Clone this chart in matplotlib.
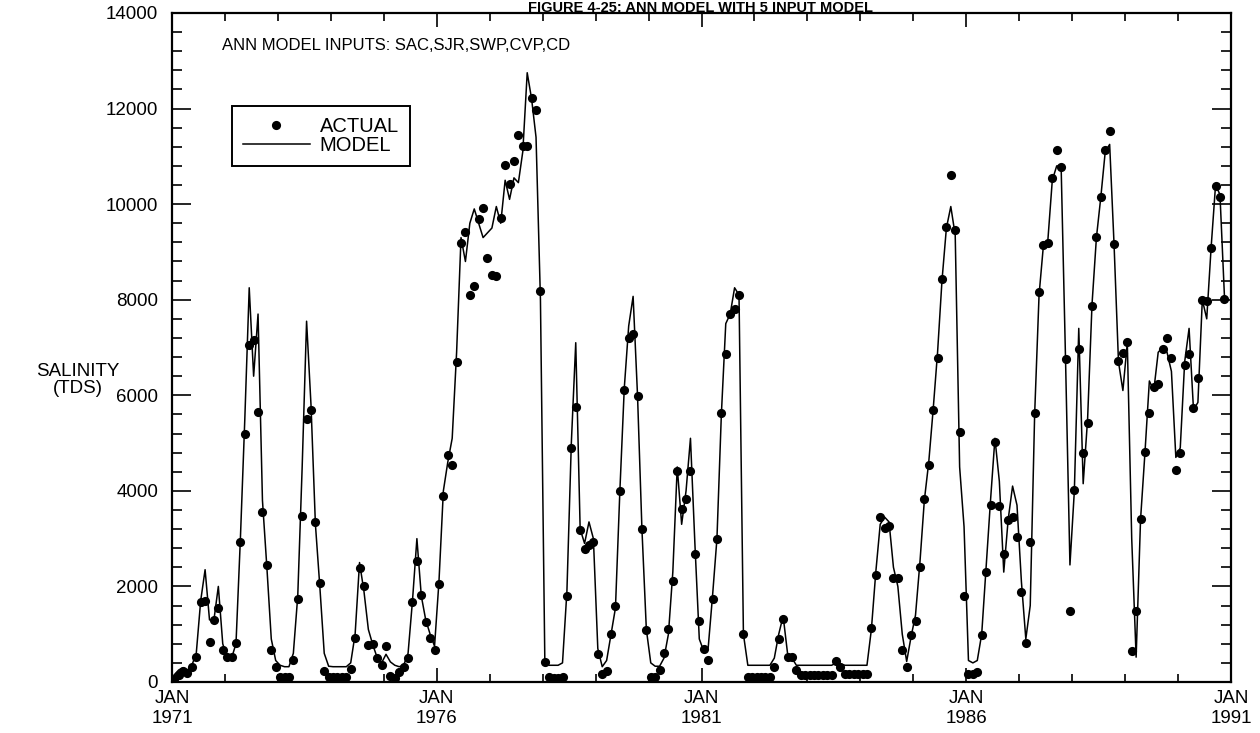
import numpy as np
import matplotlib
matplotlib.use("Agg")
import matplotlib.pyplot as plt
from matplotlib.ticker import MultipleLocator

plt.rcParams["font.family"] = ["Liberation Sans", "DejaVu Sans"]

# monthly salinity (TDS), Jan 1971 onward, one row per year
ACTUAL = [
    70, 150, 230, 180, 320, 520, 1670, 1690, 840, 1290, 1540, 680,
    530, 530, 820, 2930, 5200, 7050, 7150, 5650, 3550, 2450, 670, 320,
    100, 100, 100, 460, 1740, 3470, 5500, 5700, 3350, 2070, 230, 100,
    100, 100, 100, 100, 280, 920, 2380, 2000, 780, 800, 510, 355,
    745, 130, 85, 210, 305, 510, 1670, 2530, 1830, 1260, 920, 670,
    2060, 3900, 4750, 4540, 6700, 9180, 9420, 8100, 8280, 9680, 9910, 8880,
    8510, 8490, 9700, 10820, 10430, 10900, 11440, 11220, 11220, 12230, 11980, 8180,
    420, 100, 80, 80, 100, 1790, 4890, 5760, 3180, 2780, 2870, 2940,
    585, 170, 220, 1000, 1580, 4000, 6120, 7190, 7280, 5980, 3200, 1090,
    100, 100, 250, 600, 1110, 2110, 4420, 3610, 3840, 4420, 2680, 1280,
    690, 460, 1735, 2985, 5620, 6860, 7710, 7800, 8100, 1000, 100, 100,
    100, 100, 100, 100, 310, 890, 1320, 530, 530, 250, 150, 150,
    150, 150, 150, 150, 150, 150, 440, 310, 170, 170, 170, 170,
    170, 170, 1120, 2230, 3460, 3220, 3270, 2170, 2170, 660, 320, 990,
    1280, 2410, 3820, 4540, 5690, 6780, 8430, 9520, 10600, 9450, 5230, 1800,
    160, 160, 200, 980, 2300, 3700, 5020, 3680, 2680, 3380, 3450, 3040,
    1880, 815, 2920, 5620, 8170, 9150, 9180, 10540, 11140, 10770, 6750, 1490,
    4020, 6970, 4800, 5410, 7860, 9320, 10150, 11140, 11540, 9160, 6710, 6890,
    7120, 640, 1490, 3420, 4820, 5620, 6170, 6240, 6970, 7190, 6770, 4430,
    4790, 6630, 6860, 5740, 6360, 8000, 7970, 9090, 10380, 10150, 8010,
]

MODEL = [
    150, 250, 300, 250, 350, 600, 1700, 2350, 1300, 1300, 2000, 800,
    500, 500, 800, 3000, 5500, 8250, 6400, 7700, 3800, 2400, 900, 450,
    350, 320, 320, 600, 1800, 4500, 7550, 5800, 3300, 2000, 600, 330,
    320, 320, 320, 320, 400, 1000, 2500, 1900, 1100, 780, 510, 400,
    580, 420, 350, 320, 350, 600, 1700, 3000, 1800, 1300, 1000, 750,
    2100, 4000, 4600, 5100, 6900, 9300, 8800, 9600, 9900, 9600, 9300, 9400,
    9500, 9950, 9600, 10500, 10100, 10550, 10450, 11100, 12750, 12200, 11400, 8000,
    400, 350, 350, 350, 400, 1900, 5000, 7100, 3200, 2900, 3350, 3000,
    700, 320, 450, 1000, 1550, 4000, 6150, 7450, 8070, 6000, 3200, 1100,
    400, 330, 330, 500, 1000, 2300, 4500, 3300, 4000, 5100, 2900, 900,
    650, 700, 1800, 3000, 5600, 7500, 7700, 8250, 8100, 1000, 350, 350,
    350, 350, 350, 350, 500, 1000, 1380, 600, 500, 350, 350, 350,
    350, 350, 350, 350, 350, 350, 400, 380, 350, 350, 350, 350,
    350, 350, 1100, 2300, 3300, 3450, 3350, 2400, 2000, 1000, 430, 950,
    1400, 2500, 3800, 4600, 5700, 6900, 8400, 9500, 9950, 9350, 4500, 3250,
    450, 400, 450, 1000, 2400, 3800, 5100, 4200, 2300, 3400, 4100, 3700,
    2100, 900, 1600, 5600, 8100, 9150, 9250, 10500, 10800, 10800, 6750, 2450,
    4000, 7400, 4150, 5500, 7900, 9300, 10150, 11100, 11250, 9150, 6700, 6100,
    7100, 3000, 520, 3400, 4800, 6300, 6100, 6900, 7000, 6900, 6500, 4700,
    4900, 6700, 7400, 5700, 5850, 8000, 7600, 9100, 10400, 10200, 8100,
]

START_YEAR = 1971
YEAR_TICKS = [1971, 1976, 1981, 1986, 1991]
YEAR_LABELS = ["JAN\n1971", "JAN\n1976", "JAN\n1981", "JAN\n1986", "JAN\n1991"]


def draw():
    fig = plt.figure(figsize=(12.6, 7.33), dpi=100)
    ax = fig.add_axes([172 / 1260, 51 / 733, 1059 / 1260, 669 / 733])

    t = START_YEAR + (np.arange(len(ACTUAL)) + 0.5) / 12

    ax.plot(t, MODEL, color="black", lw=1.1, label="MODEL", zorder=2)
    ax.plot(t, ACTUAL, "o", color="black", ms=6.6, mew=0, label="ACTUAL",
            zorder=3)

    ax.set_xlim(1971, 1991)
    ax.set_ylim(0, 14000)

    ax.set_xticks(YEAR_TICKS)
    ax.set_xticklabels(YEAR_LABELS)
    ax.xaxis.set_minor_locator(MultipleLocator(1))
    ax.yaxis.set_major_locator(MultipleLocator(2000))
    ax.yaxis.set_minor_locator(MultipleLocator(400))

    ax.tick_params(axis="x", which="both", direction="in", top=True,
                   bottom=True, width=1.2, labelsize=13.5, pad=6)
    ax.tick_params(axis="x", which="major", length=10)
    ax.tick_params(axis="x", which="minor", length=5.5)
    ax.tick_params(axis="y", which="both", direction="in", left=True,
                   right=True, width=1.2, labelsize=13.5, pad=10)
    ax.tick_params(axis="y", which="major", length=13.5)
    ax.tick_params(axis="y", which="minor", length=7)

    for sp in ax.spines.values():
        sp.set_linewidth(1.6)

    # 图例手动调整顺序: ACTUAL 在上
    h, lab = ax.get_legend_handles_labels()
    leg = ax.legend(h[::-1], lab[::-1], loc="upper left",
                    bbox_to_anchor=(232 / 1260, 1 - 106 / 733),
                    bbox_transform=fig.transFigure, borderaxespad=0,
                    fontsize=14.5, handlelength=3.3, labelspacing=0.0,
                    handletextpad=0.5, borderpad=0.55, fancybox=False,
                    framealpha=1, edgecolor="black")
    leg.get_frame().set_linewidth(1.4)

    fig.text(222 / 1260, 1 - 45 / 733, "ANN MODEL INPUTS: SAC,SJR,SWP,CVP,CD",
             ha="left", va="center", fontsize=12)
    fig.text(78 / 1260, 1 - 380 / 733, "SALINITY\n(TDS)", ha="center",
             va="center", fontsize=13.5, linespacing=0.95)
    fig.text(700 / 1260, 1 - 1 / 733, "FIGURE 4-25: ANN MODEL WITH 5 INPUT MODEL",
             ha="center", va="top", fontsize=10.5, fontweight="bold")

    fig.savefig("out.png", dpi=100)


if __name__ == "__main__":
    draw()
